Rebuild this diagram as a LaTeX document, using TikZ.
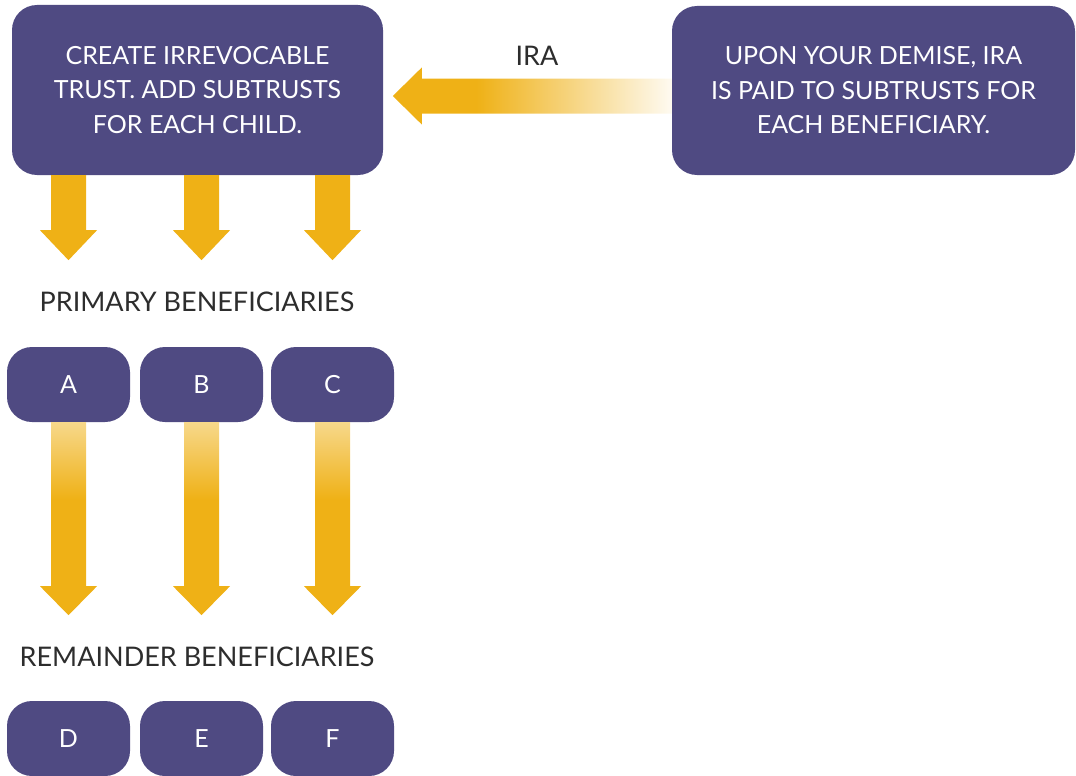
\documentclass[tikz,border=0pt]{standalone}
\usepackage{fontspec}
\setmainfont{Lato}
\usetikzlibrary{calc}
\definecolor{trustpurple}{RGB}{79,74,130}
\definecolor{irayellow}{RGB}{239,177,22}
\definecolor{labelgray}{RGB}{45,45,45}
\pgfdeclarehorizontalshading{irafade}{100bp}{color(0bp)=(irayellow); color(40bp)=(irayellow); color(75bp)=(irayellow!6); color(100bp)=(irayellow!6)}
\pgfdeclareverticalshading{benefade}{100bp}{color(0bp)=(irayellow); color(55bp)=(irayellow); color(75bp)=(irayellow!50); color(100bp)=(irayellow!50)}
\tikzset{
    bigbox/.style={fill=trustpurple, rounded corners=25pt, text=white, align=center,
        inner sep=0pt, font=\fontsize{25}{34.5}\selectfont},
    benbox/.style={fill=trustpurple, rounded corners=25pt, text=white, inner sep=0pt,
        minimum width=123pt, minimum height=75pt, font=\fontsize{25}{25}\selectfont},
    tierlabel/.style={text=labelgray, inner sep=0pt, font=\fontsize{27}{27}\selectfont},
    solidarrow/.pic={
        % short arrow out of the trust
        \fill[irayellow] (-17.5,0) -- (17.5,0) -- (17.5,55) -- (28.5,55) -- (0,85)
            -- (-28.5,55) -- (-17.5,55) -- cycle;
    },
    fadearrow/.pic={
        % long arrow, pale at the top
        \shade[shading=benefade] (-17.5,0) -- (17.5,0) -- (17.5,164) -- (28.5,164) -- (0,193)
            -- (-28.5,164) -- (-17.5,164) -- cycle;
    },
    iraarrow/.pic={
        % arrow pointing left, pale at the right end
        \shade[shading=irafade] (0,-17.5) -- (0,17.5) -- (-250,17.5) -- (-250,28.5) -- (-279,0)
            -- (-250,-28.5) -- (-250,-17.5) -- cycle;
    }
}
\begin{document}
\begin{tikzpicture}[x=1pt,y=-1pt]
    \useasboundingbox (0,0) rectangle (1076,776);
    % top row
    \node[bigbox, minimum width=371pt, minimum height=170pt] (trust) at (197.5,90)
        {CREATE IRREVOCABLE\\TRUST. ADD SUBTRUSTS\\FOR EACH CHILD.};
    \node[bigbox, minimum width=403pt, minimum height=169pt] (demise) at (873.5,90.5)
        {UPON YOUR DEMISE, IRA\\IS PAID TO SUBTRUSTS FOR\\EACH BENEFICIARY.};
    \node[tierlabel] (ira) at (537,56) {IRA};
    \pic at ($(demise.west)+(0,5.5)$) {iraarrow};
    % primary beneficiaries
    \node[tierlabel] (primary) at (197,302) {PRIMARY BENEFICIARIES};
    \node[benbox] (a) at (68.5,384.5) {A};
    \node[benbox] (b) at (201.5,384.5) {B};
    \node[benbox] (c) at (332.5,384.5) {C};
    \pic at (trust.south -| a) {solidarrow};
    \pic at (trust.south -| b) {solidarrow};
    \pic at (trust.south -| c) {solidarrow};
    % remainder beneficiaries
    \node[tierlabel] (remainder) at (197,657) {REMAINDER BENEFICIARIES};
    \node[benbox] (d) at (68.5,738.5) {D};
    \node[benbox] (e) at (201.5,738.5) {E};
    \node[benbox] (f) at (332.5,738.5) {F};
    \pic at (a.south) {fadearrow};
    \pic at (b.south) {fadearrow};
    \pic at (c.south) {fadearrow};
\end{tikzpicture}
\end{document}
